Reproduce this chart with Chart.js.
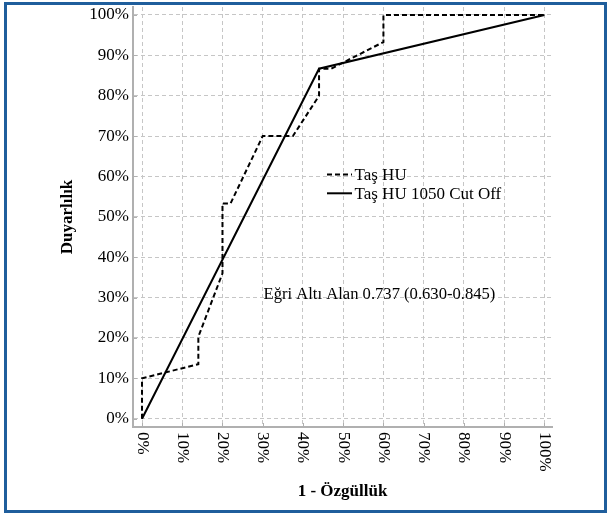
<!DOCTYPE html>
<html>
<head>
<meta charset="utf-8">
<script src="https://cdn.jsdelivr.net/npm/chart.js@4/dist/chart.umd.min.js"></script>
<style>
html,body{margin:0;padding:0;background:#fff;}
#wrap{position:relative;width:610px;height:514px;}
#frame{position:absolute;left:4px;top:2px;width:603px;height:511px;box-sizing:border-box;border:3px solid #1f5e9c;pointer-events:none;}
canvas{position:absolute;left:0;top:0;}
</style>
</head>
<body>
<div id="wrap"><canvas id="c" width="610" height="514"></canvas><div id="frame"></div></div>
<script>
// ---- data ----
const seriesNames = ['Taş HU', 'Taş HU 1050 Cut Off'];
const tasHuX = [0, 0, 14, 14, 20, 20, 22, 30, 37.5, 44, 44, 47, 60, 60, 100];
const tasHuY = [0, 10, 13.5, 20.3, 36, 53.3, 53.3, 70, 70, 80, 86.7, 86.7, 93.3, 100, 100];
const cutOffX = [0, 44, 100];
const cutOffY = [0, 86.7, 100];
const tickValues = [0, 10, 20, 30, 40, 50, 60, 70, 80, 90, 100];
const tickLabels = ['0%', '10%', '20%', '30%', '40%', '50%', '60%', '70%', '80%', '90%', '100%'];
const xTitle = '1 - Özgüllük';
const yTitle = 'Duyarlılık';
const aucText = 'Eğri Altı Alan 0.737 (0.630-0.845)';

const FONT = '"Liberation Serif","Times New Roman",serif';
const pts = (xs, ys) => xs.map((x, i) => ({x: x, y: ys[i]}));
const labelFor = v => tickLabels[tickValues.indexOf(v)];

const overlay = {
  id: 'overlay',
  afterDraw(chart) {
    const ctx = chart.ctx;
    const xs = chart.scales.x, ys = chart.scales.y;
    const ca = chart.chartArea;
    ctx.save();
    // inward tick marks
    ctx.strokeStyle = '#b0b0b0';
    ctx.lineWidth = 1;
    ctx.setLineDash([]);
    tickValues.forEach(v => {
      const py = Math.round(ys.getPixelForValue(v)) + 0.5;
      ctx.beginPath(); ctx.moveTo(ca.left + 1, py); ctx.lineTo(ca.left + 4, py); ctx.stroke();
      const px = Math.round(xs.getPixelForValue(v)) + 0.5;
      ctx.beginPath(); ctx.moveTo(px, ca.bottom - 1); ctx.lineTo(px, ca.bottom - 4); ctx.stroke();
    });
    // rotated x tick labels (clockwise, reading downward)
    ctx.fillStyle = '#000';
    ctx.font = '17px ' + FONT;
    tickValues.forEach(v => {
      const px = xs.getPixelForValue(v);
      ctx.save();
      ctx.translate(px, ca.bottom + 5);
      ctx.rotate(Math.PI / 2);
      ctx.textAlign = 'left';
      ctx.textBaseline = 'middle';
      ctx.fillText(labelFor(v), 0, 0);
      ctx.restore();
    });
    // legend inside plot
    const ds = chart.data.datasets;
    const lx = ca.left + 194, rows = [ca.top + 167.5, ca.top + 186.3];
    ctx.font = '17px ' + FONT;
    ds.forEach((d, i) => {
      const y = rows[i];
      ctx.strokeStyle = d.borderColor;
      ctx.lineWidth = d.borderWidth;
      ctx.setLineDash(d.borderDash || []);
      ctx.beginPath(); ctx.moveTo(lx, y); ctx.lineTo(lx + 25, y); ctx.stroke();
      ctx.setLineDash([]);
      ctx.fillStyle = '#000';
      ctx.textAlign = 'left';
      ctx.textBaseline = 'middle';
      ctx.fillText(d.label, lx + 27.5, y + 1);
    });
    // AUC annotation
    ctx.font = '16.6px ' + FONT;
    ctx.textAlign = 'left';
    ctx.textBaseline = 'middle';
    ctx.fillText(aucText, xs.getPixelForValue(30.2), ys.getPixelForValue(30.7));
    ctx.restore();
  }
};

new Chart(document.getElementById('c'), {
  type: 'scatter',
  data: {
    datasets: [
      {label: seriesNames[0], data: pts(tasHuX, tasHuY), showLine: true, borderColor: '#000', borderWidth: 2,
       borderDash: [5, 3], pointRadius: 0, pointHoverRadius: 0, fill: false, tension: 0},
      {label: seriesNames[1], data: pts(cutOffX, cutOffY), showLine: true, borderColor: '#000', borderWidth: 2,
       pointRadius: 0, pointHoverRadius: 0, fill: false, tension: 0}
    ]
  },
  options: {
    responsive: false,
    animation: false,
    devicePixelRatio: 1,
    layout: {padding: {left: 57, top: 7, right: 58, bottom: 12}},
    plugins: {legend: {display: false}, tooltip: {enabled: false}},
    scales: {
      x: {
        type: 'linear', min: -2.24, max: 101.9,
        afterBuildTicks: s => { s.ticks = tickValues.map(v => ({value: v})); },
        afterFit: s => { s.height = 75; s.paddingLeft = 0; s.paddingRight = 0; },
        ticks: {display: false},
        grid: {color: '#c6c6c6', lineWidth: 1, drawTicks: false},
        border: {display: true, color: '#b0b0b0', width: 2, dash: [4, 3]},
        title: {display: true, text: xTitle, color: '#000', padding: {top: 0, bottom: 0},
                font: {family: FONT, size: 17, weight: 'bold'}}
      },
      y: {
        type: 'linear', min: -2.06, max: 101.98,
        afterBuildTicks: s => { s.ticks = tickValues.map(v => ({value: v})); },
        afterFit: s => { s.width = 76; s.paddingTop = 0; s.paddingBottom = 0; },
        ticks: {color: '#000', padding: 4, font: {family: FONT, size: 17}, callback: v => labelFor(v)},
        grid: {color: '#c6c6c6', lineWidth: 1, drawTicks: false},
        border: {display: true, color: '#b0b0b0', width: 2, dash: [4, 3]},
        title: {display: true, text: yTitle, color: '#000', padding: {top: 0, bottom: 0},
                font: {family: FONT, size: 17, weight: 'bold'}}
      }
    }
  },
  plugins: [overlay]
});
</script>
</body>
</html>
